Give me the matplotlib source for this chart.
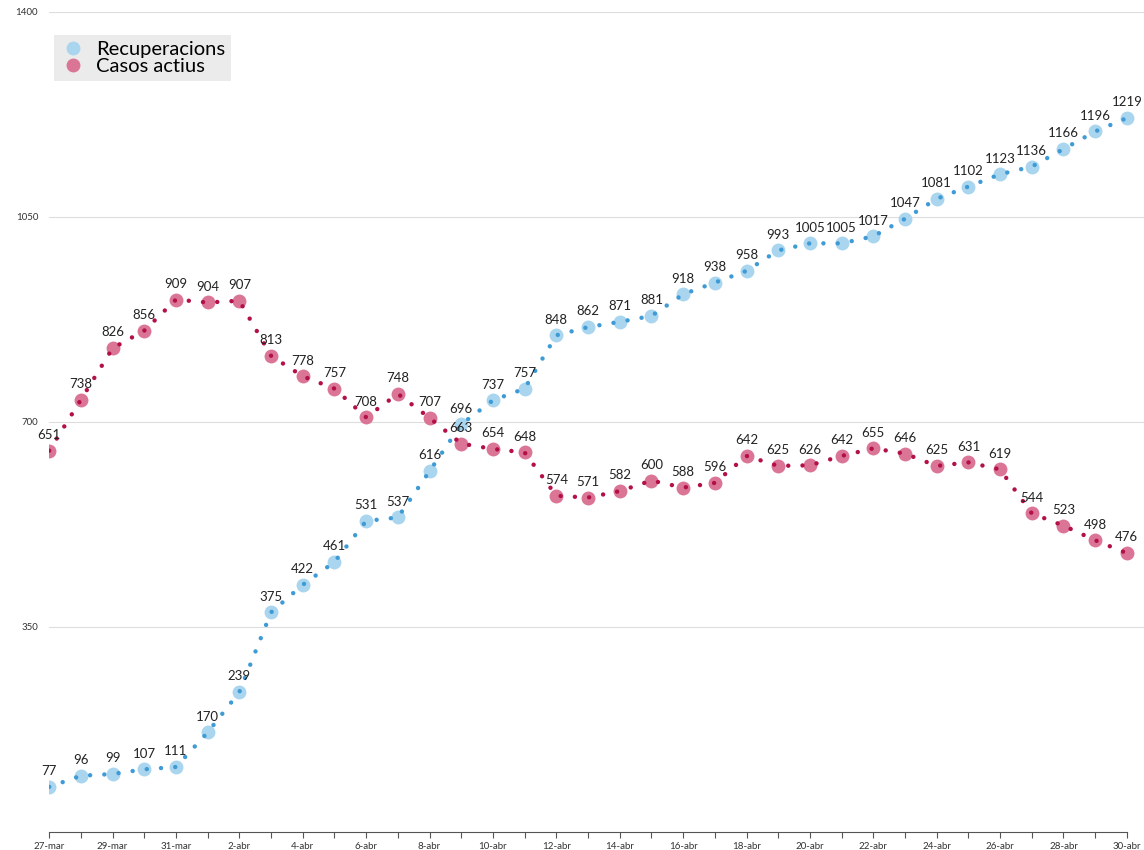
import matplotlib.pyplot as plt

plt.rcParams["font.family"] = ["Lato", "DejaVu Sans"]

DATES = ["27-mar", "28-mar", "29-mar", "30-mar", "31-mar"] + [f"{d}-abr" for d in range(1, 31)]
RECUPERACIONS = [77, 96, 99, 107, 111,
                 170, 239, 375, 422, 461, 531, 537, 616, 696, 737,
                 757, 848, 862, 871, 881, 918, 938, 958, 993, 1005,
                 1005, 1017, 1047, 1081, 1102, 1123, 1136, 1166, 1196, 1219]
CASOS_ACTIUS = [651, 738, 826, 856, 909,
                904, 907, 813, 778, 757, 708, 748, 707, 663, 654,
                648, 574, 571, 582, 600, 588, 596, 642, 625, 626,
                642, 655, 646, 625, 631, 619, 544, 523, 498, 476]
Y_TICKS = [350, 700, 1050, 1400]

SERIES = [
    ("Recuperacions", RECUPERACIONS, "#a9d5ee", "#3f9bd6"),
    ("Casos actius", CASOS_ACTIUS, "#db7595", "#b3104a"),
]

fig = plt.figure(figsize=(11.44, 8.5), dpi=100)
ax = fig.add_axes([0.043, 0.0212, 0.957, 0.9647])
x = list(range(len(DATES)))

for name, vals, light, dark in SERIES:
    ax.plot(x, vals, linestyle=(0, (0.01, 3.2)), color=dark, lw=3.2,
            dash_capstyle="round", zorder=3)
    ax.plot(x, vals, linestyle="none", marker="o", ms=10, color=light,
            mec="none", label=name, zorder=2)
    for xi, v in zip(x, vals):
        ax.annotate(str(v), (xi, v), xytext=(0, 7), textcoords="offset points",
                    ha="center", va="bottom", fontsize=9.5, color="#222222", zorder=4)

ax.set_xlim(0, 34.54)
ax.set_ylim(0, 1400)
ax.set_yticks(Y_TICKS)
ax.set_yticklabels([str(t) for t in Y_TICKS], fontsize=7)
ax.tick_params(axis="y", length=0, pad=8, labelcolor="#333333")
ax.grid(True, axis="y", color="#dddddd", lw=0.8)
ax.set_axisbelow(True)

ax.set_xticks(x)
ax.set_xticklabels([d if i % 2 == 0 else "" for i, d in enumerate(DATES)], fontsize=7)
ax.tick_params(axis="x", length=4, width=0.8, color="#555555", pad=3, labelcolor="#333333")

for s in ["top", "right", "left"]:
    ax.spines[s].set_visible(False)
ax.spines["bottom"].set_bounds(0, 34)
ax.spines["bottom"].set_color("#555555")
ax.spines["bottom"].set_linewidth(0.8)

leg = ax.legend(loc="upper left", bbox_to_anchor=(0.004, 0.972), fontsize=14.5,
                frameon=True, fancybox=False, handletextpad=0.5, borderpad=0.3,
                borderaxespad=0, labelspacing=0.0, handlelength=1.3)
leg.get_frame().set_facecolor("#ebebeb")
leg.get_frame().set_edgecolor("none")
leg.get_frame().set_alpha(1)

fig.savefig("out.png", dpi=100)
